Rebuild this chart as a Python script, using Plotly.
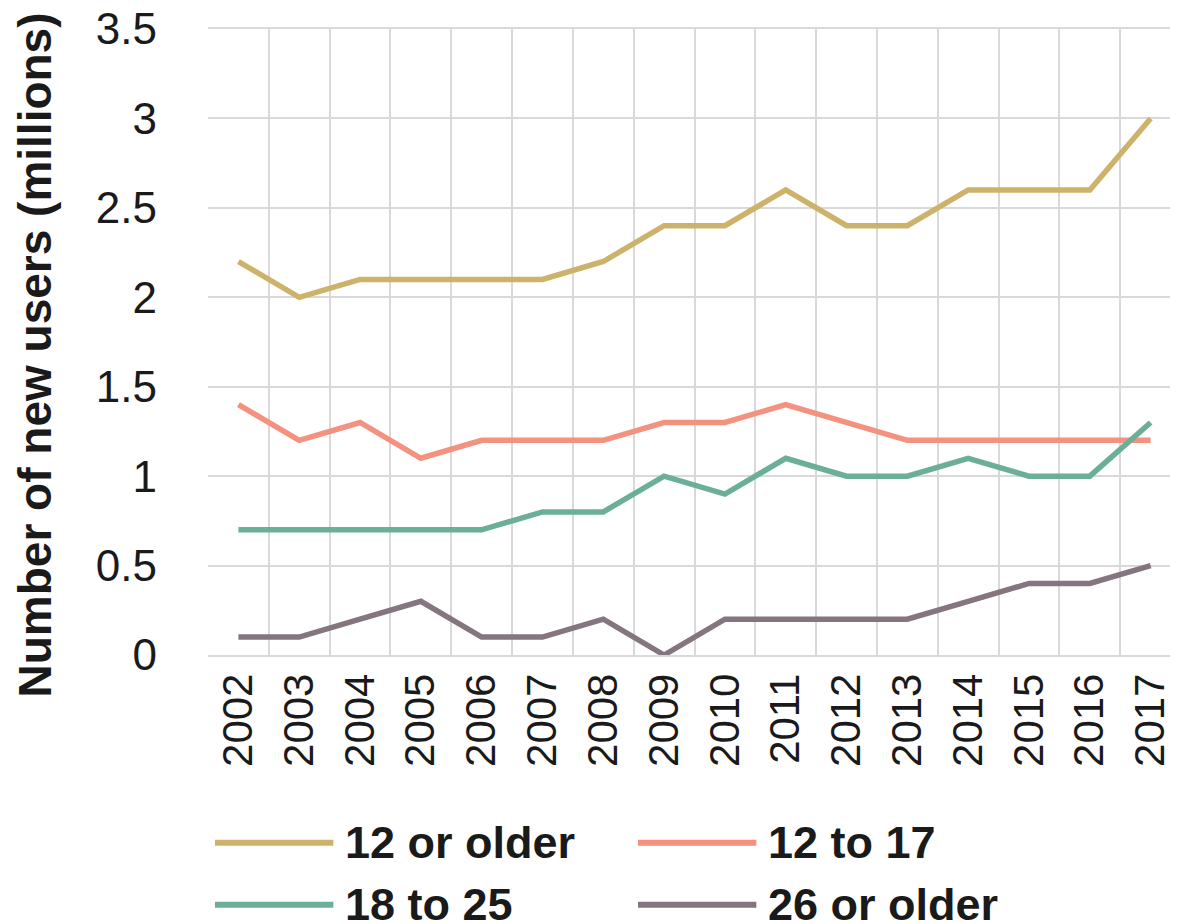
import plotly.graph_objects as go

years = [str(y) for y in range(2002, 2018)]

older_12 = [2.2, 2.0, 2.1, 2.1, 2.1, 2.1, 2.2, 2.4, 2.4, 2.6, 2.4, 2.4, 2.6, 2.6, 2.6, 3.0]
age_12_17 = [1.4, 1.2, 1.3, 1.1, 1.2, 1.2, 1.2, 1.3, 1.3, 1.4, 1.3, 1.2, 1.2, 1.2, 1.2, 1.2]
age_18_25 = [0.7, 0.7, 0.7, 0.7, 0.7, 0.8, 0.8, 1.0, 0.9, 1.1, 1.0, 1.0, 1.1, 1.0, 1.0, 1.3]
older_26 = [0.1, 0.1, 0.2, 0.3, 0.1, 0.1, 0.2, 0.0, 0.2, 0.2, 0.2, 0.2, 0.3, 0.4, 0.4, 0.5]

series = [
    ("12 or older", older_12, "#CDB26A"),
    ("12 to 17", age_12_17, "#F4917F"),
    ("18 to 25", age_18_25, "#6BAF9B"),
    ("26 or older", older_26, "#85757F"),
]

FONT = "Liberation Sans, Arial, sans-serif"
TXT = "#1a1a1a"
GRID = "#D9D9D9"

fig = go.Figure()
for name, vals, color in series:
    fig.add_trace(go.Scatter(x=years, y=vals, name=name, mode="lines",
                             line=dict(color=color, width=5.5), showlegend=False))

# legend drawn by hand so the line samples are long like the original
legend_pos = [(0.0072, -0.300), (0.4433, -0.300), (0.0072, -0.399), (0.4433, -0.399)]
for (name, _, color), (lx, ly) in zip(series, legend_pos):
    fig.add_shape(type="line", xref="paper", yref="paper",
                  x0=lx, x1=lx + 0.122, y0=ly, y1=ly,
                  line=dict(color=color, width=6))
    fig.add_annotation(xref="paper", yref="paper", x=lx + 0.132, y=ly,
                       text=name, showarrow=False, xanchor="left", yanchor="middle",
                       font=dict(family=FONT, size=45, color=TXT, weight="bold"))

fig.add_annotation(xref="paper", yref="paper", x=-0.178, y=0.479,
                   text="Number of new users (millions)", textangle=-90,
                   showarrow=False, xanchor="center", yanchor="middle",
                   font=dict(family=FONT, size=46, color=TXT, weight="bold"))

fig.update_xaxes(type="category", range=[-0.5, 15.45], tickson="boundaries",
                 showgrid=True, gridcolor=GRID, gridwidth=1.5, automargin=False,
                 tickangle=-90, ticks="", ticklabelstandoff=0,
                 tickfont=dict(family=FONT, size=42, color=TXT),
                 showline=True, mirror=True, linecolor=GRID, linewidth=1.5)
fig.update_yaxes(range=[0, 3.5], dtick=0.5, ticklabeloverflow="allow",
                 showgrid=True, gridcolor=GRID, gridwidth=1.5,
                 zeroline=True, zerolinecolor=GRID, zerolinewidth=1.5, automargin=False,
                 ticks="", ticklabelstandoff=50,
                 tickfont=dict(family=FONT, size=44, color=TXT))

# page body has an 8px margin, so the figure is 8px smaller and margins shifted
fig.update_layout(
    width=1170, height=916,
    margin=dict(l=200, r=0, t=21, b=269),
    plot_bgcolor="white", paper_bgcolor="white",
)
fig.write_html("out.html")
